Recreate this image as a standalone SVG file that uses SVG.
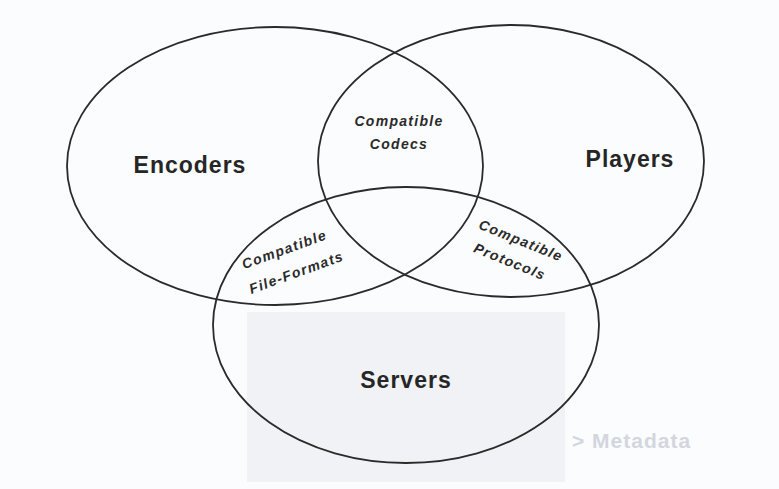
<svg xmlns="http://www.w3.org/2000/svg" width="779" height="489" viewBox="0 0 779 489">
<style>
.set{fill:none;stroke:#2a2a2a;stroke-width:1.8}
.big{font-family:"Liberation Sans",Arial,sans-serif;font-weight:bold;font-size:23px;letter-spacing:1px;fill:#262626;text-anchor:middle}
.small{font-family:"Liberation Sans",Arial,sans-serif;font-weight:bold;font-style:italic;font-size:14px;letter-spacing:1.3px;fill:#2a2a2a;text-anchor:middle}
.ghost{font-family:"Liberation Sans",Arial,sans-serif;font-weight:bold;font-size:21px;letter-spacing:1px;fill:#d2d6de}
</style>
<rect width="779" height="489" fill="#fbfcfd"/>
<rect x="247" y="312" width="318" height="170" fill="#f0f2f6"/>
<text class="ghost" x="572" y="448">&gt;  Metadata</text>
<g id="connectors"/>
<g id="encoders">
<ellipse class="set" cx="275" cy="166" rx="208" ry="139"/>
<text class="big" x="190" y="173">Encoders</text>
</g>
<g id="players">
<ellipse class="set" cx="511" cy="161" rx="193" ry="136"/>
<text class="big" x="630" y="167">Players</text>
</g>
<g id="servers">
<ellipse class="set" cx="406" cy="325" rx="193" ry="138"/>
<text class="big" x="406" y="388">Servers</text>
</g>
<g id="codecs">
<text class="small" x="399" y="126">Compatible</text>
<text class="small" x="399" y="149">Codecs</text>
</g>
<g id="fileformats">
<text class="small" transform="translate(286,254) rotate(-20)">Compatible</text>
<text class="small" transform="translate(298,277) rotate(-20)">File-Formats</text>
</g>
<g id="protocols">
<text class="small" transform="translate(519,245) rotate(22)">Compatible</text>
<text class="small" transform="translate(508,266) rotate(22)">Protocols</text>
</g>
</svg>
